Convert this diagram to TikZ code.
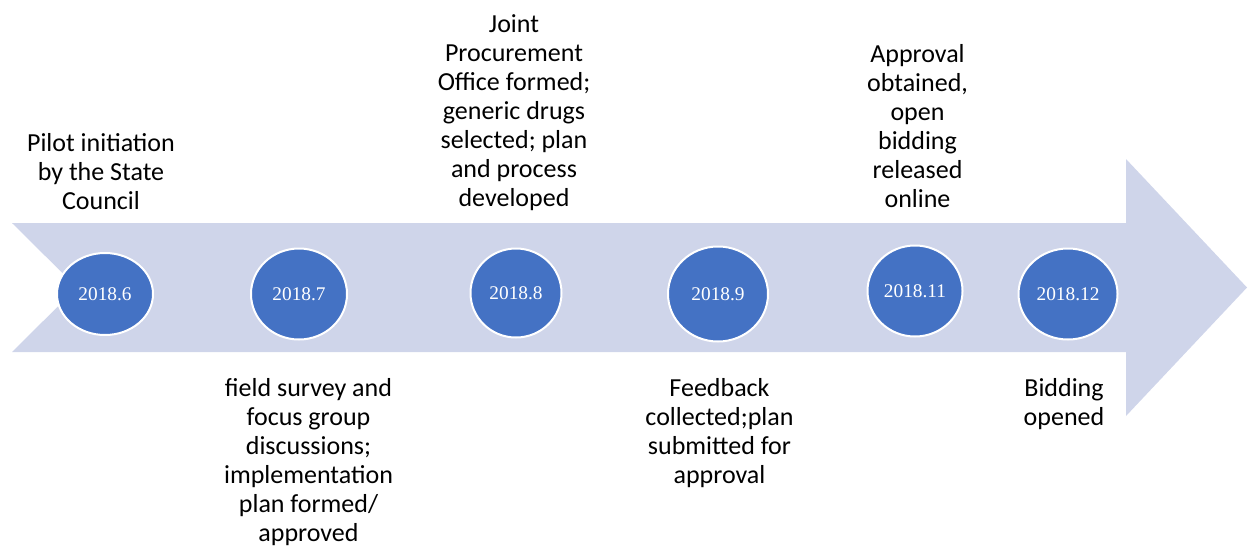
\documentclass[tikz,border=0pt]{standalone}
\usepackage{fontspec}
\setmainfont{Carlito}
\newfontfamily\datefont{Liberation Serif}
\usetikzlibrary{shapes.geometric}

\definecolor{shaftfill}{HTML}{CFD5EA}
\definecolor{dotfill}{HTML}{4472C4}
\newcommand{\lblstrut}{\rule{0pt}{15pt}}

\tikzset{
  lbl/.style={align=center, anchor=north, inner sep=0pt, font=\fontsize{19.5}{21.75}\selectfont},
  datedot/.style={ellipse, fill=dotfill, draw=white, line width=1.5pt, inner sep=0pt,
    text=white, font=\datefont\fontsize{14.5}{17}\selectfont},
}

\begin{document}
\begin{tikzpicture}[x=0.75pt, y=-0.75pt]
\useasboundingbox (0,0) rectangle (1248,547);

% timeline arrow
\fill[shaftfill] (12,223) -- (1126,223) -- (1126,159) -- (1247,287.5) -- (1126,416)
  -- (1126,352) -- (12,352) -- (77,287.5) -- cycle;

% dates
\node[datedot, minimum width=72pt, minimum height=61.5pt] (d6) at (105,294) {2018.6};
\node[datedot, minimum width=72pt, minimum height=68.25pt] (d7) at (299,294) {2018.7};
\node[datedot, minimum width=68.25pt, minimum height=66.75pt] (d8) at (516,293) {2018.8};
\node[datedot, minimum width=75pt, minimum height=71.25pt] (d9) at (718,294) {2018.9};
\node[datedot, minimum width=71.25pt, minimum height=68.25pt] (d11) at (915,291) {2018.11};
\node[datedot, minimum width=74.25pt, minimum height=68.25pt] (d12) at (1068,294) {2018.12};

% labels above
\node[lbl] (l6) at (101,131) {\lblstrut Pilot initiation\\by the State\\Council};
\node[lbl] (l8) at (514,12) {\lblstrut Joint\\Procurement\\Office formed;\\generic drugs\\selected; plan\\and process\\developed};
\node[lbl] (l11) at (917.5,42) {\lblstrut Approval\\obtained,\\open\\bidding\\released\\online};

% labels below
\node[lbl] (l7) at (308.5,376) {\lblstrut field survey and\\focus group\\discussions;\\implementation\\plan formed/\\approved};
\node[lbl] (l9) at (719.5,376) {\lblstrut Feedback\\collected;plan\\submitted for\\approval};
\node[lbl] (l12) at (1064,376) {\lblstrut Bidding\\opened};
\end{tikzpicture}
\end{document}
